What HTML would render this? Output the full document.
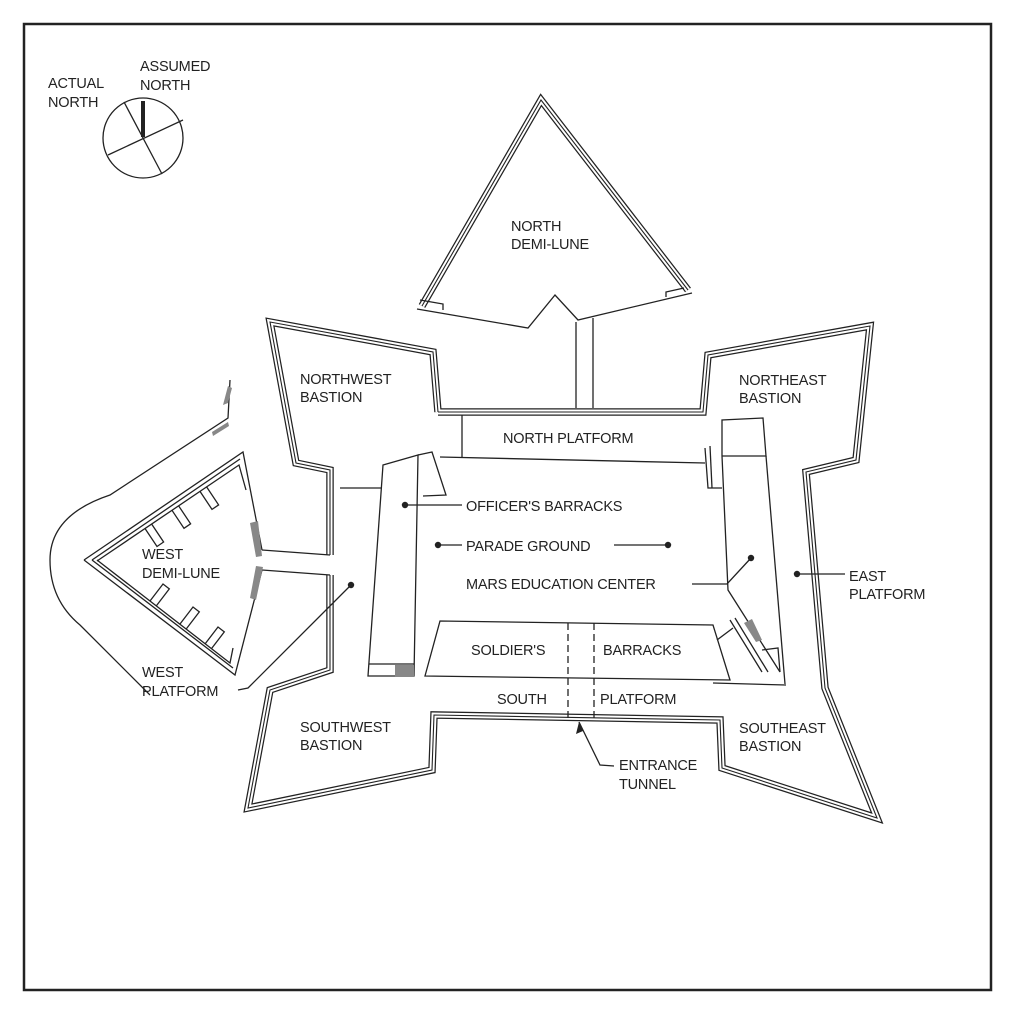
<!DOCTYPE html>
<html><head><meta charset="utf-8"><style>
html,body{margin:0;padding:0;background:#fff}
svg{display:block}
text{font-family:"Liberation Sans",Arial,sans-serif;font-size:14.5px;fill:#222;letter-spacing:-0.2px}
</style></head><body>
<svg width="1016" height="1016" viewBox="0 0 1016 1016" xmlns="http://www.w3.org/2000/svg">
<rect x="0" y="0" width="1016" height="1016" fill="#fff"/>
<rect x="24" y="24" width="967" height="966" fill="none" stroke="#222" stroke-width="2.5"/>
<defs>
<g id="walls" fill="none" stroke-linejoin="miter">
<polyline points="438,412 433,352 270,322 296,463 330,470 330,555"/>
<polyline points="330,575 330,670 270,690 248,808 432,770 434,715 720,720 722,768 877,818 825,688 806,472 856,460 870,326 708,355 703,412 438,412"/>
<polyline points="422,306 541,100 688,290"/>
</g>
</defs>
<use href="#walls" stroke="#222" stroke-width="7.5"/>
<use href="#walls" stroke="#fff" stroke-width="5"/>
<use href="#walls" stroke="#222" stroke-width="1.1"/>
<g fill="none" stroke="#222" stroke-width="1.3">
<polyline points="417,309 528,328 555,295 578,320 692,293"/>
<polyline points="420,300 443,304 443,310"/>
<polyline points="684,288 666,292 666,297"/>
<line x1="576" y1="322" x2="576" y2="408"/>
<line x1="593" y1="318" x2="593" y2="408"/>
<line x1="462" y1="415" x2="462" y2="457"/>
<line x1="440" y1="457" x2="705" y2="463"/>
<line x1="340" y1="488" x2="382" y2="488"/>
<line x1="262" y1="550" x2="330" y2="555"/>
<line x1="262" y1="570" x2="330" y2="575"/>
<!-- west demi-lune -->
<polyline points="84,560 243,452 262,550"/>
<polyline points="84,560 235,675 262,570"/>
<polyline points="92,560 240,459"/>
<polyline points="97,561 239,465 246,490"/>
<polyline points="92,560 233,668"/>
<polyline points="97,560 230,663 233,648"/>
<polyline points="145,528.5 157,546.5 163.6,542 151.6,524"/>
<polyline points="172,510.3 184,528.3 190.6,523.8 178.6,505.8"/>
<polyline points="200,491.4 212,509.4 218.6,504.9 206.6,486.9"/>
<polyline points="150,601 163,584 169.3,588.9 156.3,605.9"/>
<polyline points="180,624 193,607 199.3,611.9 186.3,628.9"/>
<polyline points="205,644 218,627 224.3,631.9 211.3,648.9"/>
<path d="M50,560 Q50,515 110,495 L228,418 L230,380 M50,560 Q50,600 80,625 L150,695"/>
<!-- officer's barracks -->
<polygon points="383,465 418,455 414,676 368,676"/>
<polyline points="418,455 432,452 446,495 423,496"/>
<line x1="369" y1="664" x2="414" y2="664"/>
<!-- soldier's barracks -->
<polygon points="440,621 713,625 730,680 425,676"/>
<!-- mars education center -->
<polyline points="722,456 722,420 763,418 766,456 722,456"/>
<polyline points="722,456 728,590 780,672"/>
<polyline points="766,456 785,684"/>
<line x1="713" y1="683" x2="786" y2="685"/>
<polyline points="762,650 778,648 780,672"/>
<line x1="730" y1="620" x2="762" y2="672"/>
<line x1="735" y1="618" x2="768" y2="672"/>
<line x1="717" y1="640" x2="733" y2="628"/>
<polyline points="705,448 708,488 722,488"/>
<line x1="710" y1="446" x2="712" y2="488"/>
<circle cx="143" cy="138" r="40"/>
<line x1="124" y1="102" x2="162" y2="174"/>
<line x1="183" y1="120" x2="108" y2="155"/>
</g>
<g stroke="#222" stroke-width="1.3" stroke-dasharray="7,4" fill="none">
<line x1="568" y1="623" x2="568" y2="718"/>
<line x1="594" y1="623" x2="594" y2="718"/>
</g>
<line x1="143" y1="101" x2="143" y2="137" stroke="#222" stroke-width="4"/>
<g fill="#888">
<rect x="395" y="665" width="19" height="12"/>
<polygon points="250,523 258,521 262,556 256,557"/>
<polygon points="256,566 263,567 256,600 250,598"/>
<polygon points="223,405 228,403 232,388 228,386"/>
<polygon points="212,432 228,422 229,426 213,436"/>
<polygon points="744,623 752,619 762,640 756,642"/>
</g>
<g stroke="#222" stroke-width="1.3" fill="none">
<line x1="405" y1="505" x2="462" y2="505"/>
<line x1="438" y1="545" x2="462" y2="545"/>
<line x1="614" y1="545" x2="668" y2="545"/>
<polyline points="692,584 727,584 751,558"/>
<line x1="797" y1="574" x2="845" y2="574"/>
<polyline points="351,585 248,688 238,690"/>
<polyline points="579,722 600,765 614,766"/>
</g>
<polygon points="579,722 576,734 583,731" fill="#222"/>
<g fill="#222">
<circle cx="405" cy="505" r="3.2"/><circle cx="438" cy="545" r="3.2"/><circle cx="668" cy="545" r="3.2"/>
<circle cx="751" cy="558" r="3.2"/><circle cx="797" cy="574" r="3.2"/><circle cx="351" cy="585" r="3.2"/>
</g>
<text x="140" y="71">ASSUMED</text><text x="140" y="90">NORTH</text>
<text x="48" y="88">ACTUAL</text><text x="48" y="107">NORTH</text>
<text x="511" y="231">NORTH</text><text x="511" y="249">DEMI-LUNE</text>
<text x="300" y="384">NORTHWEST</text><text x="300" y="402">BASTION</text>
<text x="739" y="385">NORTHEAST</text><text x="739" y="403">BASTION</text>
<text x="503" y="443">NORTH PLATFORM</text>
<text x="466" y="511">OFFICER'S BARRACKS</text>
<text x="466" y="551">PARADE GROUND</text>
<text x="466" y="589">MARS EDUCATION CENTER</text>
<text x="849" y="581">EAST</text><text x="849" y="599">PLATFORM</text>
<text x="142" y="559">WEST</text><text x="142" y="578">DEMI-LUNE</text>
<text x="142" y="677">WEST</text><text x="142" y="696">PLATFORM</text>
<text x="471" y="655">SOLDIER'S</text><text x="603" y="655">BARRACKS</text>
<text x="497" y="704">SOUTH</text><text x="600" y="704">PLATFORM</text>
<text x="300" y="732">SOUTHWEST</text><text x="300" y="750">BASTION</text>
<text x="739" y="733">SOUTHEAST</text><text x="739" y="751">BASTION</text>
<text x="619" y="770">ENTRANCE</text><text x="619" y="789">TUNNEL</text>
</svg>
</body></html>
